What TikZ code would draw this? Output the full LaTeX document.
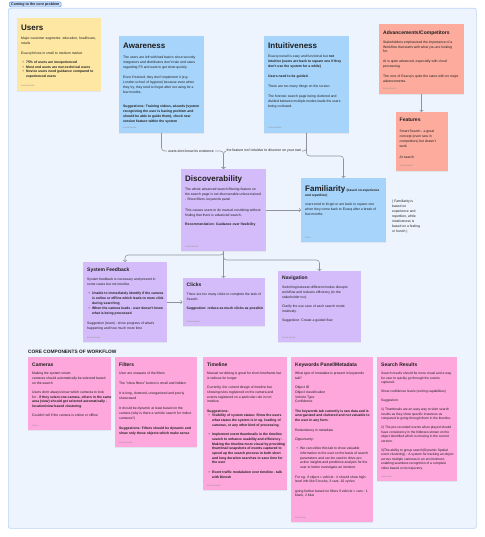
\documentclass[tikz,border=0pt]{standalone}
\usepackage{fontspec}
\setmainfont{Liberation Sans}
\usetikzlibrary{arrows.meta,shadows}
\definecolor{panelbg}{HTML}{EEF4FD}
\definecolor{panelline}{HTML}{BBD4F6}
\definecolor{tabfill}{HTML}{C4DBFA}
\definecolor{tabline}{HTML}{4E8FE6}
\definecolor{cyellow}{HTML}{FDE7A2}
\definecolor{cblue}{HTML}{A7D4FB}
\definecolor{csalmon}{HTML}{FCAB9C}
\definecolor{cpurple}{HTML}{D4BCFA}
\definecolor{cpink}{HTML}{FDA7DC}
\definecolor{ink}{HTML}{1E1E1E}
\definecolor{authc}{HTML}{8E8E8E}
\definecolor{linec}{HTML}{8F949B}

\newcommand\gapp[1][4.7pt]{\\[#1]}
\newcommand\bu{\hspace*{1.5pt}\makebox[3.5pt][l]{\textbullet}}
\newcommand\bi{\hspace*{5pt}}
\newcommand\stickycard[6]{\node[card, fill=#2, minimum width=#5pt, minimum height=#6pt] (#1) at (#3,#4) {};}
\newcommand\cardauthor[2]{\node[auth] at ([xshift=4pt,yshift=4pt]#1.south west) {#2};}

\tikzset{
  card/.style={draw=none, inner sep=0pt, outer sep=0pt, anchor=north west,
    drop shadow={shadow xshift=0.3pt,shadow yshift=-0.7pt,opacity=0.12}},
  body/.style={anchor=north west, inner sep=0pt, align=left, text=ink,
    font=\fontsize{3.4}{#1}\selectfont},
  body/.default=4.7pt,
  ttl/.style={anchor=base west, inner sep=0pt, text=ink, font=\fontsize{8}{9}\selectfont\bfseries},
  sttl/.style={anchor=base west, inner sep=0pt, text=ink, font=\fontsize{5}{6}\selectfont\bfseries},
  auth/.style={anchor=base west, inner sep=0pt, text=authc, font=\fontsize{2}{2.4}\selectfont},
  conn/.style={draw=linec, line width=0.55pt, rounded corners=3pt,
    -{Straight Barb[length=1.6pt,width=3.8pt]}},
  lbl/.style={fill=panelbg, inner xsep=0.8pt, inner ysep=0.6pt, text=ink, font=\fontsize{3.5}{3.9}\selectfont},
  panel/.style={draw=panelline, line width=0.7pt, fill=panelbg, rounded corners=2pt,
    anchor=north west, inner sep=0pt},
  tab/.style={draw=tabline, line width=0.45pt, fill=tabfill, rounded corners=1.5pt,
    anchor=north west, inner xsep=2pt, inner ysep=0.9pt, text=ink,
    font=\fontsize{3.6}{4}\selectfont\bfseries},
}

\begin{document}
\begin{tikzpicture}[x=1pt,y=-1pt]
\useasboundingbox (0,0) rectangle (484,537);
\fill[white] (0,0) rectangle (484,537);

% panel and tab
\node[panel, minimum width=468pt, minimum height=520pt] (panel) at (8,8) {};
\node[tab] (tab) at (9,1.6) {Coming to the core problem};

% ---------- cards ----------
\stickycard{users}{cyellow}{17}{18}{84}{73}
\stickycard{aw}{cblue}{119}{36}{85}{97}
\stickycard{int}{cblue}{264}{36}{85}{97}
\stickycard{adv}{csalmon}{379}{24}{85}{70}
\stickycard{feat}{csalmon}{395.5}{112}{52}{59}
\stickycard{disc}{cpurple}{181}{169}{85}{82}
\stickycard{fam}{cblue}{301}{178}{85}{64}
\stickycard{sf}{cpurple}{83}{262}{84}{80}
\stickycard{clicks}{cpurple}{182.5}{278}{82}{48}
\stickycard{nav}{cpurple}{278}{271}{83}{71}
\stickycard{cams}{cpink}{28}{357}{83}{73}
\stickycard{filt}{cpink}{115}{357}{82}{90}
\stickycard{tl}{cpink}{203}{357}{84}{133}
\stickycard{kw}{cpink}{291}{357}{82}{165}
\stickycard{sr}{cpink}{377}{357}{80}{124}

% ---------- connectors ----------
\draw[conn] (aw.south) |- ([yshift=18pt]disc.north) -- (disc.north);
\draw[conn] (int.south) |- ([yshift=18pt]disc.north) -- (disc.north);
\draw[conn] (int.south) |- ([yshift=22pt]fam.north) -- (fam.north);
\draw[conn] (adv.south) -- (feat.north);
\draw[conn] (disc.east) -- (fam.west);
\draw[conn] (disc.south) |- ([yshift=7pt]sf.north) -- (sf.north);
\draw[conn] (disc.south) -- (clicks.north);
\draw[conn] (disc.south) |- ([yshift=11pt]nav.north) -- (nav.north);
\draw[conn] (sf.east) -- (clicks.west);

\node[lbl] (l1) at (191,151) {users dont know its existence};
\node[lbl] (l2) at (264,151) {the feature isn't intuitive to discover on your own};

% ---------- Users ----------
\node[ttl] at (21,30.5) {Users};
\node[body] at (21,37.3) {Major customer segments: education, healthcare,\\
retails\gapp
Exacq thrives in small to medium market\gapp
\bu\textbf{75\% of users are inexperienced}\\
\bu\textbf{Most end users are non-technical users}\\
\bu\textbf{Novice users need guidance compared to}\\
\bi\textbf{experienced users}};
\cardauthor{users}{Kushal Gandhi}

% ---------- Awareness ----------
\node[ttl] at (123,49) {Awareness};
\node[body=5pt] at (123,55.7) {The users are left with bad basics since security\\
integrators and distributors don't train end users\\
regarding FS and want to get done quickly.\gapp[5pt]
Even if trained, they don't implement it (e.g.\\
London school of hygiene) because even when\\
they try, they tend to forget after not using for a\\
few months.\\[8.8pt]
\textbf{Suggestions: Training videos, wizards (system}\\
\textbf{recognizing the user is having problem and}\\
\textbf{should be able to guide them), check new}\\
\textbf{version feature within the system}};
\cardauthor{aw}{Kushal Gandhi}

% ---------- Intuitiveness ----------
\node[ttl] at (268,49) {Intuitiveness};
\node[body=5pt] at (268,55.3) {Exacq overall is easy and functional but \textbf{not}\\
\textbf{intuitive (users are back to square one if they}\\
\textbf{don't use the system for a while)}\gapp[5pt]
\textbf{Users need to be guided.}\gapp[5pt]
There are too many things on the screen.\gapp[5pt]
The forensic search page being cluttered and\\
divided between multiple modes leads the users\\
being confused.};
\cardauthor{int}{Kushal Gandhi}

% ---------- Advancements ----------
\node[sttl] at (383,34.8) {Advancements/Competitors};
\node[body=4.6pt] at (383,41) {Stakeholders emphasized the importance of a\\
Workflow that starts with what you are looking\\
for.\gapp[5.4pt]
AI is quite advanced, especially with cloud\\
processing.\gapp[5.4pt]
The core of Exacq is quite the same with no major\\
advancements.};
\cardauthor{adv}{Kushal Gandhi}

% ---------- Features ----------
\node[sttl] at (399.5,121.8) {Features};
\node[body=5pt] at (399.5,129.7) {Smart Search - a great\\
concept (even saw in\\
competitors) but doesn't\\
work\\[6pt]
AI search};
\cardauthor{feat}{Kushal Gandhi}

% ---------- Discoverability ----------
\node[ttl] at (185,182) {Discoverability};
\node[body=5pt] at (185,188) {The whole advanced search filtering feature on\\
the search page is not discoverable unless trained\\
- Show filters, keywords panel\gapp[5.5pt]
This causes users to do manual scrubbing without\\
finding that there is advanced search.\gapp[4pt]
\textbf{Recommendation: Guidance over flexibility}};
\cardauthor{disc}{Kushal Gandhi}

% ---------- Familiarity ----------
\node[ttl] (famt) at (305,192) {Familiarity};
\node[anchor=base west, inner sep=0pt, text=ink, font=\fontsize{3.2}{3.6}\selectfont\bfseries]
  at ([xshift=1pt]famt.base east) {(based on experience};
\node[anchor=base west, inner sep=0pt, text=ink, font=\fontsize{3.2}{3.6}\selectfont\bfseries]
  at (305,196.6) {and repetition)};
\node[body=5pt] at (305,203) {users tend to forget or are back to square one\\
when they come back to Exacq after a break of\\
few months};
\cardauthor{fam}{Ruthu}

\node[body=5pt] (famnote) at (392,200) {( Familiarity is\\
based on\\
experience and\\
repetition, while\\
intuitiveness is\\
based on a feeling\\
or hunch )};

% ---------- System Feedback ----------
\node[sttl] at (87,271.8) {System Feedback};
\node[body=5pt] at (87,278) {System feedback is necessary and present in\\
some cases but not intuitive.\\[4.3pt]
\bu\textbf{Unable to immediately identify if the camera}\\
\bi\textbf{is online or offline which leads to more click}\\
\bi\textbf{during searching}\\
\bu\textbf{When the camera loads - user doesn't know}\\
\bi\textbf{what is being processed}\gapp[5pt]
Suggestion (team) - show progress of what's\\
happening and how much more time};
\cardauthor{sf}{Kushal Gandhi}

% ---------- Clicks ----------
\node[sttl] at (186.5,286.8) {Clicks};
\node[body=5pt] at (186.5,293) {There are too many clicks to complete the task of\\
Search.\gapp[4.3pt]
\textbf{Suggestion: reduce as much clicks as possible}};
\cardauthor{clicks}{Kushal Gandhi}

% ---------- Navigation ----------
\node[sttl] at (282,279.8) {Navigation};
\node[body=4.8pt] at (282,286) {Switching between different modes disrupts\\
workflow and reduces efficiency (to the\\
stakeholder too)\gapp[4.2pt]
Clarify the use case of each search mode\\
intuitively.\gapp[4.2pt]
Suggestion: Create a guided flow};
\cardauthor{nav}{Kushal Gandhi}

% ---------- Core components ----------
\node[anchor=base west, inner sep=0pt, text=ink, font=\fontsize{4.8}{5.2}\selectfont\bfseries]
  (core) at (28,353.6) {CORE COMPONENTS OF WORKFLOW};

% Cameras
\node[sttl] at (32,366.8) {Cameras};
\node[body] at (32,372) {Making the system smart:\\
cameras should automatically be selected based\\
on the search\gapp
Users don't always know which cameras to look\\
for - \textbf{if they select one camera, others in the same}\\
\textbf{area (view) should get selected automatically -}\\
\textbf{location/view based clustering}\gapp
Couldn't tell if the camera is online or offline};
\cardauthor{cams}{Ruthu}

% Filters
\node[sttl] at (119,366.8) {Filters};
\node[body=5pt] at (119,372) {User are unaware of the filters\gapp[5pt]
The "show filters" button is small and hidden\gapp[5pt]
It is long, cluttered, unorganized and poorly\\
showcased\gapp[5pt]
It should be dynamic at least based on the\\
camera (why is there a vehicle search for indoor\\
cameras?)\gapp[5pt]
\textbf{Suggestions: Filters should be dynamic and}\\
\textbf{show only those objects which make sense}};
\cardauthor{filt}{Kushal Gandhi}

% Timeline
\node[sttl] at (207,366.8) {Timeline};
\node[body] at (207,372) {Manual scrubbing is great for short timeframe but\\
is tedious for longer\gapp
Currently, the current design of timeline bar\\
showing rules registered on the camera and\\
events registered on a particular rule is not\\
intuitive.\gapp
\textbf{Suggestions:}\\
\bu\textbf{Visibility of system status: Show the users}\\
\bi\textbf{what status the system is in eg. loading of}\\
\bi\textbf{cameras, or any other kind of processing.}\gapp
\bu\textbf{Implement event thumbnails in the timeline}\\
\bi\textbf{search to enhance usability and efficiency -}\\
\bi\textbf{Making the timeline more visual by providing}\\
\bi\textbf{thumbnail snapshots of events captured to}\\
\bi\textbf{speed up the search process in both short}\\
\bi\textbf{and long duration searches to save time for}\\
\bi\textbf{the user}\gapp
\bu\textbf{Event traffic modulation over timeline - talk}\\
\bi\textbf{with Dinesh}};
\cardauthor{tl}{Kushal Gandhi}

% Keywords Panel
\node[sttl] at (295,366.8) {Keywords Panel/Metadata};
\node[body] at (295,372) {What type of metadata is present in keywords\\
tab?\gapp
Object ID\\
Object classification\\
Vehicle Type\\
Confidence\gapp
\textbf{The keywords tab currently is raw data and is}\\
\textbf{unorganized and cluttered and not valuable to}\\
\textbf{the user in any form.}\gapp
Redundancy in metadata\gapp
Opportunity:\gapp
\bu We can utilize this tab to show valuable\\
\bi information to the user on the basis of search\\
\bi parameters and can be used to drive pro-\\
\bi active insights and predictive analysis for the\\
\bi user to better investigate an incident.\gapp
For eg. if object = vehicle : it should show high-\\
level info like 5 trucks, 3 cars, 10 cycles\gapp
going further based on filters if vehicle = cars : 1\\
black, 2 blue};
\cardauthor{kw}{Gaurav Raj}

% Search Results
\node[sttl] at (381,366.8) {Search Results};
\node[body=4.5pt, font=\fontsize{3.3}{4.5}\selectfont] at (381,372) {Search results should be more visual and a way\\
for user to quickly go through the events\\
captured.\gapp[4.5pt]
Show confidence levels (sorting capabilities)\gapp[4.5pt]
Suggestion:\gapp[4.5pt]
1) Thumbnails are an easy way to skim search\\
results as they show specific instances as\\
compared to going through them in the timeline.\gapp[4.5pt]
2) The pre-recorded events when played should\\
have consistency in the hitboxes shown on the\\
object identified which is missing in the current\\
version.\gapp[4.5pt]
3)The ability to group search(Dynamic Spatial\\
event clustering) - A system for tracking an object\\
across multiple cameras in an environment,\\
enabling seamless recognition of a complete\\
video based on its trajectory.};
\cardauthor{sr}{Gaurav Raj}
\end{tikzpicture}
\end{document}
